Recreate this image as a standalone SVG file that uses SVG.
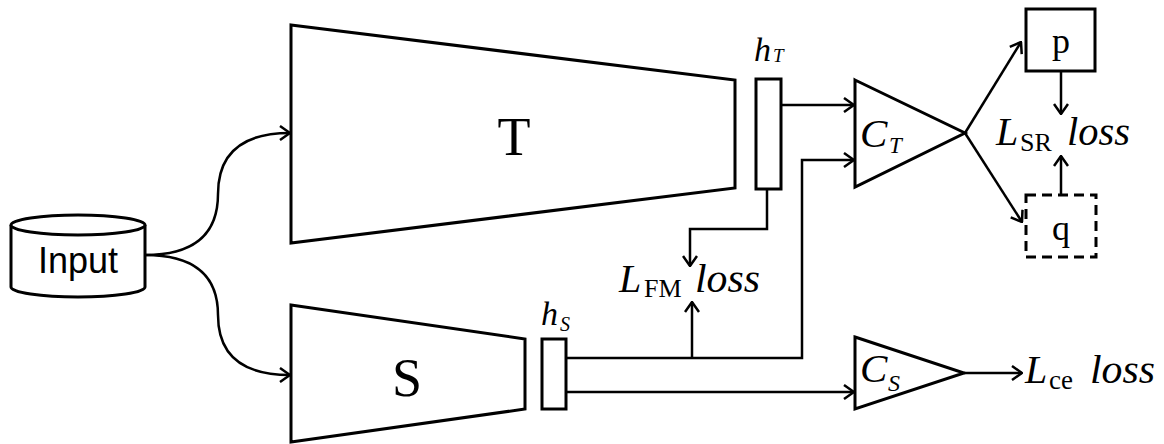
<svg xmlns="http://www.w3.org/2000/svg" width="1164" height="444" viewBox="0 0 1164 444">
<style>
.sh{fill:#fff;stroke:#000;stroke-width:3}
.ln{fill:none;stroke:#000;stroke-width:2.5}
.mi{font-family:"Liberation Serif",serif;font-style:italic;fill:#000}
.up{font-family:"Liberation Serif",serif;fill:#000}
.sans{font-family:"Liberation Sans",Arial,sans-serif;fill:#000}
</style>
<defs>
<marker id="ah" markerUnits="userSpaceOnUse" viewBox="0 0 12 16" refX="11" refY="8" markerWidth="12" markerHeight="16" orient="auto">
<path d="M1,1 L11,8 L1,15" fill="none" stroke="#000" stroke-width="2.5"/>
</marker>
</defs>
<g id="connectors" class="ln">
<path d="M145,255 Q218,255 218,194 Q218,133 290,133" marker-end="url(#ah)"/>
<path d="M145,255 Q218,255 218,315 Q218,375 290,375" marker-end="url(#ah)"/>
<path d="M781,105 H854" marker-end="url(#ah)"/>
<path d="M566,358 H802 V160 H854" marker-end="url(#ah)"/>
<path d="M692,358 V302" marker-end="url(#ah)"/>
<path d="M767,189 V229 H690 V266" marker-end="url(#ah)"/>
<path d="M566,392 H854" marker-end="url(#ah)"/>
<path d="M964,373 H1022" marker-end="url(#ah)"/>
<path d="M965,133 L1021,42" marker-end="url(#ah)"/>
<path d="M965,133 L1022,222" marker-end="url(#ah)"/>
<path d="M1061,71 V114" marker-end="url(#ah)"/>
<path d="M1061,196 V156" marker-end="url(#ah)"/>
</g>
<g id="input">
<path class="sh" d="M11,225 V287 A67,10 0 0 0 145,287 V225"/>
<ellipse class="sh" cx="78" cy="225" rx="67" ry="10"/>
<text class="sans" x="78" y="273" font-size="36" text-anchor="middle">Input</text>
</g>
<g id="teacher">
<polygon class="sh" points="291,25 735,80 735,188 291,243"/>
<text class="up" x="514" y="155" font-size="54" text-anchor="middle">T</text>
</g>
<g id="student">
<polygon class="sh" points="291,305 525,339 525,409 291,442"/>
<text class="up" x="407" y="396" font-size="54" text-anchor="middle">S</text>
</g>
<g id="hT">
<rect class="sh" x="756" y="79" width="25" height="110"/>
<text class="mi" x="754" y="61" font-size="34">h</text>
<text class="mi" x="773" y="62" font-size="19">T</text>
</g>
<g id="hS">
<rect class="sh" x="542" y="339" width="24" height="70"/>
<text class="mi" x="541" y="325" font-size="34">h</text>
<text class="mi" x="560" y="331" font-size="20">S</text>
</g>
<g id="CT">
<polygon class="sh" points="855,80 965,133 855,187"/>
<text class="mi" x="860" y="147" font-size="41">C</text>
<text class="mi" x="889" y="153" font-size="23">T</text>
</g>
<g id="CS">
<polygon class="sh" points="855,337 964,373 855,409"/>
<text class="mi" x="860" y="382" font-size="41">C</text>
<text class="mi" x="888" y="391" font-size="24">S</text>
</g>
<g id="p">
<rect class="sh" x="1026" y="9" width="69" height="62"/>
<text class="up" x="1061" y="53" font-size="36" text-anchor="middle">p</text>
</g>
<g id="q">
<rect class="sh" x="1026" y="195" width="70" height="62" stroke-dasharray="10,6"/>
<text class="up" x="1061" y="240" font-size="36" text-anchor="middle">q</text>
</g>
<g id="LFM">
<text class="mi" x="619" y="292" font-size="40">L</text>
<text class="up" x="644" y="297" font-size="26">FM</text>
<text class="mi" x="695" y="292" font-size="40" textLength="65" lengthAdjust="spacingAndGlyphs">loss</text>
</g>
<g id="LSR">
<text class="mi" x="996" y="145" font-size="40">L</text>
<text class="up" x="1020" y="151" font-size="26">SR</text>
<text class="mi" x="1067" y="145" font-size="40" textLength="63" lengthAdjust="spacingAndGlyphs">loss</text>
</g>
<g id="Lce">
<text class="mi" x="1025" y="383" font-size="40">L</text>
<text class="up" x="1049" y="389" font-size="27">ce</text>
<text class="mi" x="1090" y="383" font-size="40" textLength="65" lengthAdjust="spacingAndGlyphs">loss</text>
</g>
</svg>
